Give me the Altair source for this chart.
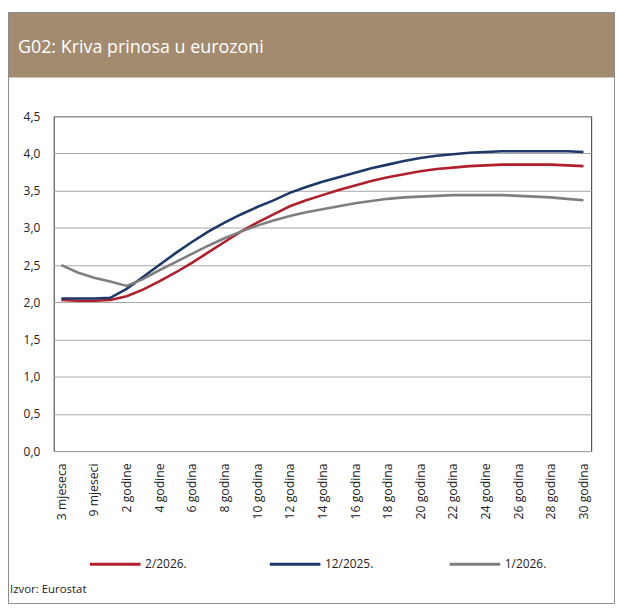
import altair as alt
import pandas as pd

maturities = [
    "3 mjeseca", "6 mjeseci", "9 mjeseci", "1 godina", "2 godine", "3 godine",
    "4 godine", "5 godina", "6 godina", "7 godina", "8 godina", "9 godina",
    "10 godina", "11 godina", "12 godina", "13 godina", "14 godina", "15 godina",
    "16 godina", "17 godina", "18 godina", "19 godina", "20 godina", "21 godina",
    "22 godina", "23 godine", "24 godine", "25 godina", "26 godina", "27 godina",
    "28 godina", "29 godina", "30 godina",
]
labeled = maturities[::2]

series_names = ["2/2026.", "12/2025.", "1/2026."]
series_colors = ["#B0202C", "#1E3868", "#7F7F7F"]

y_2026_02 = [2.03, 2.02, 2.02, 2.03, 2.08, 2.17, 2.28, 2.40, 2.53, 2.67, 2.81,
             2.95, 3.07, 3.18, 3.29, 3.37, 3.44, 3.51, 3.57, 3.63, 3.68, 3.72,
             3.76, 3.79, 3.81, 3.83, 3.84, 3.85, 3.85, 3.85, 3.85, 3.84, 3.83]
y_2025_12 = [2.05, 2.05, 2.05, 2.06, 2.18, 2.34, 2.50, 2.66, 2.81, 2.95, 3.07,
             3.18, 3.28, 3.37, 3.47, 3.55, 3.62, 3.68, 3.74, 3.80, 3.85, 3.90,
             3.94, 3.97, 3.99, 4.01, 4.02, 4.03, 4.03, 4.03, 4.03, 4.03, 4.02]
y_2026_01 = [2.50, 2.40, 2.33, 2.28, 2.22, 2.31, 2.43, 2.54, 2.65, 2.76, 2.86,
             2.95, 3.03, 3.10, 3.16, 3.21, 3.25, 3.29, 3.33, 3.36, 3.39, 3.41,
             3.42, 3.43, 3.44, 3.44, 3.44, 3.44, 3.43, 3.42, 3.41, 3.39, 3.37]

y_ticks = [0, 0.5, 1.0, 1.5, 2.0, 2.5, 3.0, 3.5, 4.0, 4.5]

title_text = "G02: Kriva prinosa u eurozoni"
source_text = "Izvor: Eurostat"

FONT = "Open Sans"

df = pd.DataFrame({
    "rok": maturities * 3,
    "serija": [series_names[0]] * 33 + [series_names[1]] * 33 + [series_names[2]] * 33,
    "prinos": y_2026_02 + y_2025_12 + y_2026_01,
})
one = pd.DataFrame({"k": [0]})

W, H = 541, 337

border = alt.Chart(one).mark_rect(fillOpacity=0, stroke="#8C8C8C", strokeWidth=1).encode(
    x=alt.value(-45.5), x2=alt.value(564.5), y=alt.value(-104.5), y2=alt.value(490.5)
)
header = alt.Chart(one).mark_rect(fill="#A38B70").encode(
    x=alt.value(-45.5), x2=alt.value(564.5), y=alt.value(-104.5), y2=alt.value(-39)
)
title = alt.Chart(one).mark_text(
    align="left", baseline="alphabetic", color="white", font=FONT, fontSize=18
).encode(x=alt.value(-36), y=alt.value(-64), text=alt.value(title_text))
source = alt.Chart(one).mark_text(
    align="left", baseline="alphabetic", color="#222222", font=FONT, fontSize=11.5
).encode(x=alt.value(-44), y=alt.value(480), text=alt.value(source_text))

lines = alt.Chart(df).mark_line(strokeWidth=2.6).encode(
    x=alt.X(
        "rok:N", sort=maturities,
        scale=alt.Scale(type="point", padding=0.47),
        axis=alt.Axis(values=labeled, labelAngle=-90, title=None, ticks=False,
                      domain=False, labelPadding=12, labelFontSize=12.3,
                      labelFont=FONT, labelColor="#222222"),
    ),
    y=alt.Y(
        "prinos:Q", scale=alt.Scale(domain=[0, 4.5]),
        axis=alt.Axis(values=y_ticks, title=None, ticks=False, domain=False,
                      labelExpr="replace(format(datum.value, '.1f'), '.', ',')",
                      labelPadding=14, labelFontSize=12, labelFont=FONT,
                      labelColor="#222222", gridColor="#A6A6A6", gridWidth=1),
    ),
    color=alt.Color(
        "serija:N", sort=series_names,
        scale=alt.Scale(domain=series_names, range=series_colors),
        legend=alt.Legend(
            title=None, orient="none", legendX=35, legendY=424,
            direction="horizontal", columns=3, gridAlign="all",
            symbolType="stroke", symbolSize=2601, symbolStrokeWidth=3,
            labelFont=FONT, labelFontSize=12, labelColor="#222222",
            columnPadding=70, labelOffset=3,
        ),
    ),
)

chart = alt.layer(header, border, title, source, lines).properties(
    width=W, height=H,
    autosize=alt.AutoSizeParams(type="none"),
    padding={"left": 46, "top": 107, "right": 25, "bottom": 156},
    background="white",
).configure_view(stroke="#333333", strokeWidth=1).configure_axisX(grid=False)

chart.save("out.html", embed_options={"renderer": "svg", "actions": False})
